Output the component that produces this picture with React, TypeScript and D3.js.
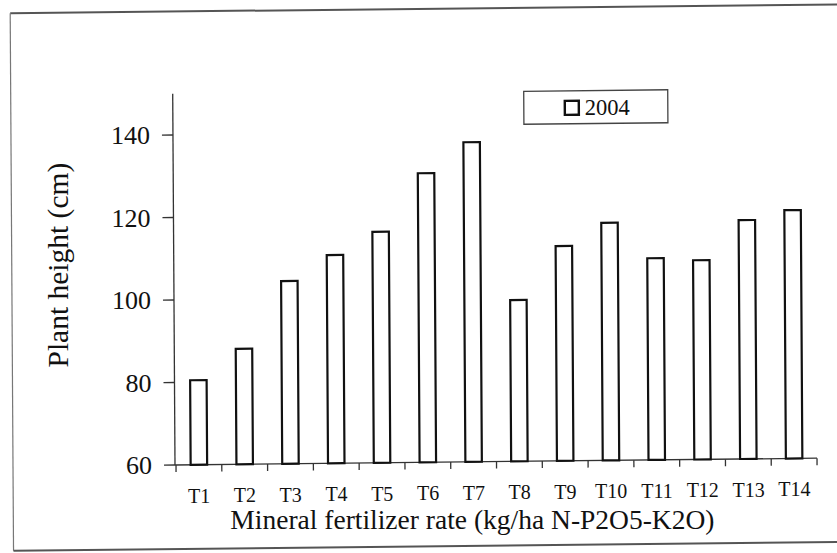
import React from "react";
import * as d3 from "d3";

const categories = ["T1","T2","T3","T4","T5","T6","T7","T8","T9","T10","T11","T12","T13","T14"];
const values2004 = [80.5, 88.0, 104.3, 110.5, 116.0, 130.1, 137.5, 99.1, 112.1, 117.6, 108.9, 108.3, 117.9, 120.2];
const yTicks = [60, 80, 100, 120, 140];
const seriesName = "2004";
const xTitle = "Mineral fertilizer rate (kg/ha N-P2O5-K2O)";
const yTitle = "Plant height (cm)";

const W = 837;
const H = 553;
const FONT = "Liberation Serif, Times New Roman, serif";
const tStyle = { fontFamily: FONT };

const PX = 175, PY = 464, SB = -0.0106, SC = 0.0062;
// same skew as the scanned page, applied to text anchor points
function tf(x: number, y: number): [number, number] {
  return [x + SC * (y - PY), y + SB * (x - PX)];
}

export default function App() {
  const x = d3.scaleBand<string>().domain(categories).range([176, 817]).paddingInner(0.64).paddingOuter(0.32);
  const y = d3.scaleLinear().domain([60, 150]).range([465, 93.75]);
  const step = x.step();
  const x0 = 176;
  const boundaries = d3.range(categories.length + 1).map((k) => x0 + k * step);
  const skew = `translate(${PX},${PY}) matrix(1,${SB},${SC},1,0,0) translate(${-PX},${-PY})`;

  const xt = tf(472, 532.5);
  const yt = tf(69, 264);
  const lt = tf(587, 119.5);

  return (
    <svg width={W} height={H} style={{ position: "absolute", left: 0, top: 0, background: "#fff" }}>
      <rect x={0} y={0} width={W} height={H} fill="#fff" />
      <g transform={skew}>
        {/* outer frame */}
        <line x1={13} x2={860} y1={11.5} y2={11.5} stroke="#555" strokeWidth={2} />
        <line x1={13} x2={13} y1={11.5} y2={549} stroke="#777" strokeWidth={1.2} />
        <line x1={13} x2={860} y1={549} y2={549} stroke="#555" strokeWidth={2} />

        {/* y axis */}
        <line x1={175} x2={175} y1={y(150)} y2={y(60)} stroke="#333" strokeWidth={1.3} />
        {yTicks.map((t) => (
          <line key={t} x1={164} x2={175} y1={y(t)} y2={y(t)} stroke="#333" strokeWidth={1.3} />
        ))}

        {/* x axis */}
        <line x1={175} x2={817} y1={y(60)} y2={y(60)} stroke="#333" strokeWidth={1.3} />
        {boundaries.map((b, i) => (
          <line key={i} x1={b} x2={b} y1={y(60)} y2={y(60) + 7} stroke="#333" strokeWidth={1.3} />
        ))}

        {/* bars */}
        {categories.map((c, i) => (
          <rect key={c} x={x(c)!} y={y(values2004[i])} width={x.bandwidth()} height={y(60) - y(values2004[i])}
            fill="#fff" stroke="#111" strokeWidth={2.2} />
        ))}

        {/* legend box */}
        <rect x={526} y={95} width={144} height={33} fill="#fff" stroke="#444" strokeWidth={1.3} />
        <rect x={567} y={105} width={14} height={14} fill="#fff" stroke="#111" strokeWidth={2.4} />
      </g>

      {/* texts (positioned through the same skew) */}
      {yTicks.map((t) => {
        const [tx, ty] = tf(152, y(t));
        return (
          <text key={t} x={tx} y={ty} dy="0.35em" textAnchor="end" fontSize={26} fill="#111" style={tStyle}>{t}</text>
        );
      })}
      {categories.map((c) => {
        const [tx, ty] = tf(x(c)! + x.bandwidth() / 2, 503);
        return (
          <text key={c} x={tx} y={ty} textAnchor="middle" fontSize={20} fill="#111" style={tStyle}>{c}</text>
        );
      })}
      <text x={xt[0]} y={xt[1]} textAnchor="middle" fontSize={27.5} fill="#111" style={tStyle}>{xTitle}</text>
      <text transform={`translate(${yt[0]},${yt[1]}) rotate(-90)`} textAnchor="middle" fontSize={29.5} fill="#111" style={tStyle}>{yTitle}</text>
      <text x={lt[0]} y={lt[1]} fontSize={22.5} fill="#111" style={tStyle}>{seriesName}</text>
    </svg>
  );
}
